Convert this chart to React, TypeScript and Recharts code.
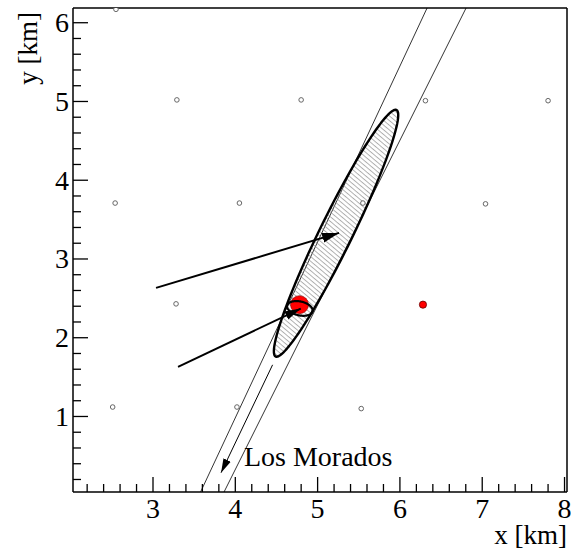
import React from 'react';
import { ComposedChart, XAxis, YAxis, Scatter, ReferenceLine } from 'recharts';

const W = 571;
const H = 550;
const SERIF = "'Liberation Serif', 'Times New Roman', serif";

const X_DOMAIN: [number, number] = [2.028, 8.03];
const Y_DOMAIN: [number, number] = [0.041, 6.187];

const xTicks = [2.2, 2.4, 2.6, 2.8, 3.0, 3.2, 3.4, 3.6, 3.8, 4.0, 4.2, 4.4, 4.6, 4.8, 5.0, 5.2, 5.4, 5.6, 5.8, 6.0, 6.2, 6.4, 6.6, 6.8, 7.0, 7.2, 7.4, 7.6, 7.8, 8.0];
const yTicks = [0.2, 0.4, 0.6, 0.8, 1.0, 1.2, 1.4, 1.6, 1.8, 2.0, 2.2, 2.4, 2.6, 2.8, 3.0, 3.2, 3.4, 3.6, 3.8, 4.0, 4.2, 4.4, 4.6, 4.8, 5.0, 5.2, 5.4, 5.6, 5.8, 6.0];
const xMajorLabels = [3, 4, 5, 6, 7, 8];
const yMajorLabels = [1, 2, 3, 4, 5, 6];

const xTitle = 'x [km]';
const yTitle = 'y [km]';
const siteLabel = 'Los Morados';

// surface detector stations (km)
const stations = [
  { x: 2.55, y: 6.17 },
  { x: 3.29, y: 5.02 },
  { x: 4.8, y: 5.02 },
  { x: 6.31, y: 5.01 },
  { x: 7.8, y: 5.01 },
  { x: 2.54, y: 3.71 },
  { x: 4.05, y: 3.71 },
  { x: 5.55, y: 3.71 },
  { x: 7.04, y: 3.7 },
  { x: 3.28, y: 2.43 },
  { x: 4.78, y: 2.42 },
  { x: 2.51, y: 1.12 },
  { x: 4.02, y: 1.12 },
  { x: 5.53, y: 1.1 },
];
const hotStation = [{ x: 4.78, y: 2.42 }];
const secondStation = [{ x: 6.28, y: 2.42 }];

// shower-detector-plane lines
const sdpLine1 = [{ x: 3.578, y: 0.041 }, { x: 6.33, y: 6.187 }];
const sdpLine2 = [{ x: 3.863, y: 0.041 }, { x: 6.804, y: 6.187 }];

// arrows
const arrowA = [{ x: 3.037, y: 2.633 }, { x: 5.26, y: 3.331 }];
const arrowB = [{ x: 3.304, y: 1.631 }, { x: 4.795, y: 2.37 }];
const arrowSite = [{ x: 4.453, y: 1.656 }, { x: 3.827, y: 0.286 }];

// label anchor
const siteLabelPos = [{ x: 4.105, y: 0.366 }];

// core-uncertainty ellipses (centre, semi-axes in km, angle)
const bigEllipse = { cx: 5.224, cy: 3.327, a: 1.729, b: 0.2, angleDeg: 64.9 };
const smallEllipse = { cx: 4.785, cy: 2.372, a: 0.158, b: 0.088, angleDeg: -14 };

function ellipseOutline(e: { cx: number; cy: number; a: number; b: number; angleDeg: number }) {
  const th = (e.angleDeg * Math.PI) / 180;
  const pts: { x: number; y: number }[] = [];
  const n = 120;
  for (let i = 0; i < n; i++) {
    const t = (2 * Math.PI * i) / n;
    pts.push({
      x: e.cx + e.a * Math.cos(th) * Math.cos(t) - e.b * Math.sin(th) * Math.sin(t),
      y: e.cy + e.a * Math.sin(th) * Math.cos(t) + e.b * Math.cos(th) * Math.sin(t),
    });
  }
  return pts;
}
const bigEllipsePts = ellipseOutline(bigEllipse);
const smallEllipsePts = ellipseOutline(smallEllipse);

const toPath = (pts: { x: number; y: number }[], closed: boolean) =>
  pts.map((p, i) => `${i ? 'L' : 'M'}${p.x},${p.y}`).join(' ') + (closed ? ' Z' : '');

const pathLine =
  (o: { closed?: boolean; fill?: string; stroke?: string; strokeWidth?: number; markerEnd?: string }) =>
  (p: any) =>
    (
      <path
        d={toPath(p.points || [], !!o.closed)}
        fill={o.fill || 'none'}
        stroke={o.stroke || 'none'}
        strokeWidth={o.strokeWidth || 1}
        strokeLinejoin="round"
        markerEnd={o.markerEnd}
      />
    );

const noShape = () => <g />;

const isMajor = (v: number, majors: number[]) => majors.find((m) => Math.abs(m - v) < 1e-6);

const XTick = (props: any) => {
  const { x, y, payload } = props;
  const m = isMajor(payload.value, xMajorLabels);
  return (
    <g>
      <line x1={x} x2={x} y1={y} y2={y - (m !== undefined ? 15 : 8)} stroke="#000" strokeWidth={1.3} />
      {m !== undefined && (
        <text x={x} y={y + 26} textAnchor="middle" fontFamily={SERIF} fontSize={28} fill="#000">
          {m}
        </text>
      )}
    </g>
  );
};

const YTick = (props: any) => {
  const { x, y, payload } = props;
  const m = isMajor(payload.value, yMajorLabels);
  return (
    <g>
      <line x1={x} x2={x + (m !== undefined ? 15 : 8)} y1={y} y2={y} stroke="#000" strokeWidth={1.3} />
      {m !== undefined && (
        <text x={x - 4} y={y + 9.5} textAnchor="end" fontFamily={SERIF} fontSize={28} fill="#000">
          {m}
        </text>
      )}
    </g>
  );
};

export default function App() {
  return (
    <div style={{ position: 'absolute', left: 0, top: 0, width: W, height: H, background: '#fff' }}>
      <svg width={0} height={0} style={{ position: 'absolute' }}>
        <defs>
          <pattern id="hatch" patternUnits="userSpaceOnUse" width={6} height={3.6} patternTransform="rotate(40)">
            <line x1={0} y1={0.5} x2={6} y2={0.5} stroke="#8a8a8a" strokeWidth={0.7} />
          </pattern>
          <marker id="headBig" markerUnits="userSpaceOnUse" markerWidth={18} markerHeight={11} refX={17} refY={5.5} orient="auto">
            <path d="M0,0.5 L17,5.5 L0,10.5 Z" fill="#000" />
          </marker>
          <marker id="headMid" markerUnits="userSpaceOnUse" markerWidth={17} markerHeight={10} refX={16} refY={5} orient="auto">
            <path d="M0,0.5 L16,5 L0,9.5 Z" fill="#000" />
          </marker>
          <marker id="headSmall" markerUnits="userSpaceOnUse" markerWidth={15} markerHeight={9} refX={14} refY={4.5} orient="auto">
            <path d="M0,0.5 L14,4.5 L0,8.5 Z" fill="#000" />
          </marker>
        </defs>
      </svg>
      <ComposedChart width={W} height={H} margin={{ top: 8, right: 4, bottom: 0, left: 0 }}>
        <XAxis
          type="number"
          dataKey="x"
          domain={X_DOMAIN}
          allowDataOverflow
          ticks={xTicks}
          interval={0}
          tickSize={0}
          tickMargin={0}
          tickLine={false}
          tick={<XTick />}
          height={58}
          axisLine={{ stroke: '#000', strokeWidth: 1.5 }}
        />
        <YAxis
          type="number"
          dataKey="y"
          domain={Y_DOMAIN}
          allowDataOverflow
          ticks={yTicks}
          interval={0}
          tickSize={0}
          tickMargin={0}
          tickLine={false}
          tick={<YTick />}
          width={73}
          axisLine={{ stroke: '#000', strokeWidth: 1.5 }}
        />
        <ReferenceLine y={Y_DOMAIN[1]} stroke="#000" strokeWidth={1.5} />
        <ReferenceLine x={X_DOMAIN[1]} stroke="#000" strokeWidth={1.5} />

        <Scatter data={sdpLine1} isAnimationActive={false} shape={noShape} line={pathLine({ stroke: '#000', strokeWidth: 0.8 })} />
        <Scatter data={sdpLine2} isAnimationActive={false} shape={noShape} line={pathLine({ stroke: '#000', strokeWidth: 0.8 })} />
        <Scatter data={bigEllipsePts} isAnimationActive={false} shape={noShape} line={pathLine({ closed: true, fill: 'url(#hatch)' })} />
        <Scatter
          data={stations}
          isAnimationActive={false}
          shape={(p: any) => <circle cx={p.cx} cy={p.cy} r={2.3} fill="#fff" stroke="#666" strokeWidth={1} />}
        />
        <Scatter data={bigEllipsePts} isAnimationActive={false} shape={noShape} line={pathLine({ closed: true, stroke: '#000', strokeWidth: 2.4 })} />
        <Scatter data={arrowSite} isAnimationActive={false} shape={noShape} line={pathLine({ stroke: '#000', strokeWidth: 1, markerEnd: 'url(#headSmall)' })} />
        <Scatter
          data={hotStation}
          isAnimationActive={false}
          shape={(p: any) => <circle cx={p.cx} cy={p.cy} r={9} fill="#ff0000" stroke="#8a0000" strokeWidth={0.6} />}
        />
        <Scatter
          data={secondStation}
          isAnimationActive={false}
          shape={(p: any) => <circle cx={p.cx} cy={p.cy} r={3.6} fill="#ff0000" stroke="#600" strokeWidth={0.8} />}
        />
        <Scatter data={smallEllipsePts} isAnimationActive={false} shape={noShape} line={pathLine({ closed: true, stroke: '#000', strokeWidth: 2.2 })} />
        <Scatter data={arrowA} isAnimationActive={false} shape={noShape} line={pathLine({ stroke: '#000', strokeWidth: 2, markerEnd: 'url(#headBig)' })} />
        <Scatter data={arrowB} isAnimationActive={false} shape={noShape} line={pathLine({ stroke: '#000', strokeWidth: 2, markerEnd: 'url(#headMid)' })} />
        <Scatter
          data={siteLabelPos}
          isAnimationActive={false}
          shape={(p: any) => (
            <text x={p.cx} y={p.cy} fontFamily={SERIF} fontSize={28} fill="#000">
              {siteLabel}
            </text>
          )}
        />
      </ComposedChart>
      <svg width={W} height={H} style={{ position: 'absolute', left: 0, top: 0, pointerEvents: 'none' }}>
        <text x={567} y={544} textAnchor="end" fontFamily={SERIF} fontSize={27} fill="#000">
          {xTitle}
        </text>
        <text x={37} y={12} transform="rotate(-90 37 12)" textAnchor="end" fontFamily={SERIF} fontSize={27} fill="#000">
          {yTitle}
        </text>
      </svg>
    </div>
  );
}
